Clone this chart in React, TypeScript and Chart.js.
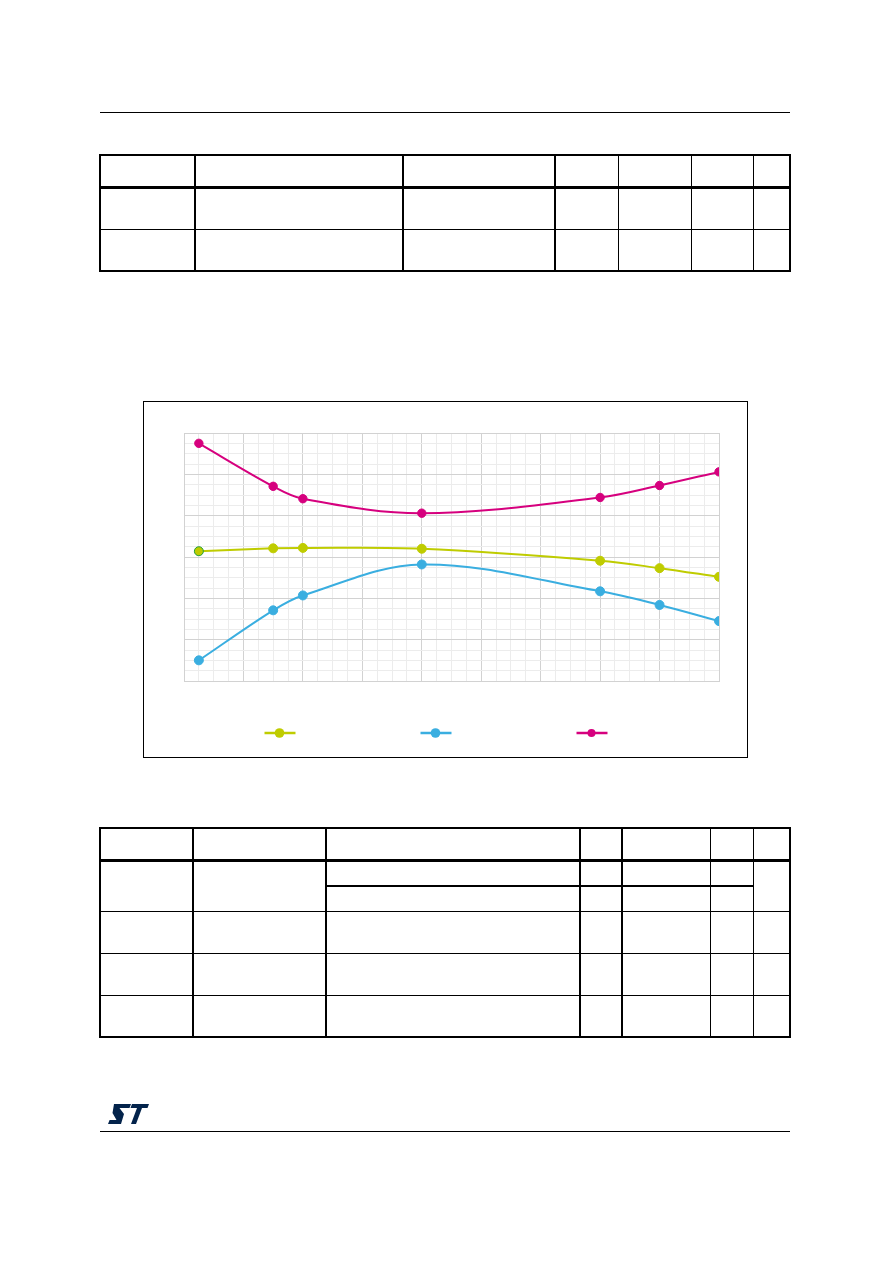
import { useEffect, useRef } from 'react';
import { Chart, registerables } from 'chart.js';

Chart.register(...registerables);

// x positions in grid units (9 major divisions), y in grid units (6 major divisions)
const xValues = [0.25, 1.5, 2, 4, 7, 8, 9];
const yellowSeries = [3.14, 3.21, 3.22, 3.2, 2.91, 2.73, 2.52];
const blueSeries = [0.5, 1.71, 2.07, 2.82, 2.17, 1.84, 1.45];
const magentaSeries = [5.75, 4.71, 4.41, 4.06, 4.44, 4.73, 5.06];
const seriesLabels = ['', '', ''];

const X_MIN = 0;
const X_MAX = 9;
const Y_MIN = 0;
const Y_MAX = 6;

const YELLOW = '#bfcc00';
const BLUE = '#3aaee0';
const MAGENTA = '#d6007e';

const toPoints = (ys: number[]) => ys.map((y, i) => ({ x: xValues[i], y }));

// legend with line + dot, labels are empty in the source
const lineLegend = {
  id: 'lineLegend',
  afterDraw(chart: Chart) {
    const { ctx } = chart;
    const y = chart.height - 24;
    chart.data.datasets.forEach((ds: any, i: number) => {
      const cx = chart.width / 2 - 10 + (i - 1) * 156;
      ctx.save();
      ctx.strokeStyle = ds.borderColor;
      ctx.lineWidth = 2.5;
      ctx.beginPath();
      ctx.moveTo(cx - 15, y);
      ctx.lineTo(cx + 16, y);
      ctx.stroke();
      ctx.fillStyle = ds.borderColor;
      ctx.beginPath();
      ctx.arc(cx, y, i === 2 ? 4 : 4.8, 0, Math.PI * 2);
      ctx.fill();
      ctx.restore();
    });
  }
};

function CurveChart() {
  const canvasRef = useRef<HTMLCanvasElement | null>(null);
  const chartRef = useRef<Chart | null>(null);

  useEffect(() => {
    if (!canvasRef.current) return;
    if (chartRef.current) chartRef.current.destroy();

    const gridColor = (c: any) => (Math.abs(c.tick.value % 1) < 1e-6 ? '#d2d2d2' : '#ececec');

    chartRef.current = new Chart(canvasRef.current, {
      type: 'line',
      data: {
        datasets: [
          {
            label: seriesLabels[0],
            data: toPoints(yellowSeries),
            borderColor: YELLOW,
            backgroundColor: YELLOW,
            pointBorderColor: yellowSeries.map((_, i) => (i === 0 ? '#22a03c' : YELLOW)),
            pointBorderWidth: 1,
            pointRadius: 4.5
          },
          {
            label: seriesLabels[1],
            data: toPoints(blueSeries),
            borderColor: BLUE,
            backgroundColor: BLUE,
            pointRadius: 4.5
          },
          {
            label: seriesLabels[2],
            data: toPoints(magentaSeries),
            borderColor: MAGENTA,
            backgroundColor: MAGENTA,
            pointRadius: 4.2
          }
        ]
      },
      options: {
        animation: false,
        responsive: true,
        maintainAspectRatio: false,
        layout: { padding: { left: 40, right: 28, top: 31, bottom: 76 } },
        elements: {
          line: { borderWidth: 2, tension: 0.35 }
        },
        scales: {
          x: {
            type: 'linear',
            min: X_MIN,
            max: X_MAX,
            ticks: { display: false, stepSize: 0.25 },
            grid: { color: gridColor, drawTicks: false, lineWidth: 1 },
            border: { display: true, color: '#d2d2d2' }
          },
          y: {
            type: 'linear',
            min: Y_MIN,
            max: Y_MAX,
            ticks: { display: false, stepSize: 0.25 },
            grid: { color: gridColor, drawTicks: false, lineWidth: 1 },
            border: { display: true, color: '#d2d2d2' }
          }
        },
        plugins: {
          legend: { display: false },
          tooltip: { enabled: false }
        }
      },
      plugins: [lineLegend]
    });

    return () => {
      if (chartRef.current) {
        chartRef.current.destroy();
        chartRef.current = null;
      }
    };
  }, []);

  return (
    <div
      style={{
        position: 'absolute',
        left: 143,
        top: 401,
        width: 603,
        height: 355,
        border: '1px solid #000'
      }}
    >
      <canvas ref={canvasRef} />
    </div>
  );
}

const H = ({ x1, x2, y, t = 1 }: { x1: number; x2: number; y: number; t?: number }) => (
  <div style={{ position: 'absolute', left: x1, top: y - t / 2, width: x2 - x1, height: t, background: '#000' }} />
);
const V = ({ x, y1, y2, t = 1 }: { x: number; y1: number; y2: number; t?: number }) => (
  <div style={{ position: 'absolute', left: x - t / 2, top: y1, width: t, height: y2 - y1, background: '#000' }} />
);

function TopTable() {
  const cols: [number, number][] = [
    [100, 1.5], [195, 2], [403, 1.5], [555, 1.5], [618, 1], [691, 1], [753, 1], [790, 1.5]
  ];
  return (
    <>
      <H x1={100} x2={790} y={155} t={2} />
      <H x1={100} x2={790} y={187} t={3} />
      <H x1={100} x2={790} y={229} t={1} />
      <H x1={100} x2={790} y={271} t={1.5} />
      {cols.map(([x, t]) => (
        <V key={x} x={x} y1={154} y2={272} t={t} />
      ))}
    </>
  );
}

function BottomTable() {
  const cols: [number, number][] = [
    [100, 1.5], [193, 2], [326, 1.5], [580, 2], [622, 2], [710, 1], [753, 1], [790, 1.5]
  ];
  return (
    <>
      <H x1={100} x2={790} y={828} t={2} />
      <H x1={100} x2={790} y={860} t={3} />
      <H x1={326} x2={753} y={886} t={2} />
      <H x1={100} x2={790} y={911} t={1} />
      <H x1={100} x2={790} y={953} t={1} />
      <H x1={100} x2={790} y={995} t={1} />
      <H x1={100} x2={790} y={1037} t={1.5} />
      {cols.map(([x, t]) => (
        <V key={x} x={x} y1={827} y2={1038} t={t} />
      ))}
    </>
  );
}

function StLogo() {
  return (
    <svg
      style={{ position: 'absolute', left: 108, top: 1104 }}
      width={41}
      height={20}
      viewBox="0 0 41 20"
    >
      <polygon fill="#03234b" points="6,0 23,0 21.5,4 11.5,4 16,10 13,20 0,20 1.6,16 8.5,16 4.5,9" />
      <polygon fill="#03234b" points="24,0 41,0 39.5,4 34,4 28,20 23,20 29,4 22.5,4" />
    </svg>
  );
}

export default function App() {
  return (
    <div
      style={{
        position: 'absolute',
        left: 0,
        top: 0,
        width: 892,
        height: 1263,
        background: '#fff',
        fontFamily: 'Arial, "Liberation Sans", sans-serif'
      }}
    >
      <H x1={100} x2={790} y={112} t={1} />
      <TopTable />
      <CurveChart />
      <BottomTable />
      <StLogo />
      <H x1={100} x2={790} y={1131} t={1} />
    </div>
  );
}
